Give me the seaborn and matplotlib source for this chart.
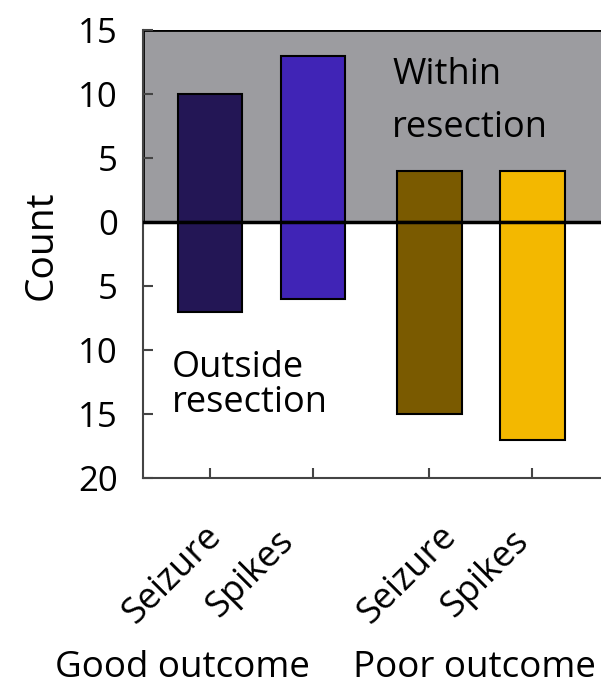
import numpy as np
import pandas as pd
import seaborn as sns
import matplotlib.pyplot as plt

# ---- data ----
keys = ["Good Seizure", "Good Spikes", "Poor Seizure", "Poor Spikes"]
measures = ["Seizure", "Spikes", "Seizure", "Spikes"]
groups = ["Good outcome", "Poor outcome"]
positions = [1.0, 2.0, 3.13, 4.13]
within = [10, 13, 4, 4]
outside = [7, 6, 15, 17]
colors = ["#231655", "#4024B6", "#7A5A00", "#F3B800"]
yticks = [-20, -15, -10, -5, 0, 5, 10, 15]
ytick_labels = ["20", "15", "10", "5", "0", "5", "10", "15"]

sns.set_theme(style="ticks")
plt.rcParams['font.family'] = ['Open Sans', 'DejaVu Sans']
plt.rcParams['text.color'] = 'black'
plt.rcParams['axes.labelcolor'] = 'black'
plt.rcParams['ytick.labelcolor'] = 'black'

df_in = pd.DataFrame({"key": keys, "pos": positions, "count": within})
df_out = pd.DataFrame({"key": keys, "pos": positions,
                       "count": [-v for v in outside]})
pal = dict(zip(keys, colors))

W, H = 601, 688
fig = plt.figure(figsize=(W / 100, H / 100), dpi=100)
ax = fig.add_axes([143 / W, 210 / H, (612 - 143) / W, 448 / H])

ax.axhspan(0, 15, facecolor="#9C9CA0", edgecolor="black", lw=2, zorder=0)
for d in (df_in, df_out):
    sns.barplot(data=d, x="pos", y="count", hue="key", palette=pal,
                native_scale=True, width=0.63, dodge=False, legend=False,
                saturation=1, errorbar=None,
                edgecolor="black", linewidth=1.5, ax=ax, zorder=2)
ax.axhline(0, color="black", lw=2.5, zorder=3)

xmin = 1 - 67 / 103
ax.set_xlim(xmin, xmin + (612 - 143) / 103)
ax.set_ylim(-20, 15)
ax.set_yticks(yticks)
ax.set_yticklabels(ytick_labels)
ax.set_xticks(positions)
ax.set_xticklabels([""] * len(positions))
ax.set_xlabel("")
ax.set_ylabel("Count", fontsize=28)
ax.yaxis.set_label_coords(-0.175, 0.52)

for s in ["top", "right"]:
    ax.spines[s].set_visible(False)
for s in ["left", "bottom"]:
    ax.spines[s].set_color("#444444")
    ax.spines[s].set_linewidth(1.5)
ax.tick_params(direction="in", length=7, width=1.5, color="#444444",
               labelsize=25, pad=18)

ax.text(2.77, 12.9, "Within\nresection", fontsize=26, ha="left", va="top",
        linespacing=1.65, zorder=4)
ax.text(0.63, -10.0, "Outside\nresection", fontsize=26, ha="left", va="top",
        linespacing=0.95, zorder=4)

# rotated category labels
label_anchor = [(222, 538), (295, 543), (457, 538), (530, 543)]
for (px, py), m in zip(label_anchor, measures):
    fig.text(px / W, 1 - py / H, m, fontsize=26, rotation=45,
             rotation_mode="anchor", ha="right", va="baseline")

for cx, g in zip([182, 474], groups):
    fig.text(cx / W, 1 - 686 / H, g, fontsize=26.5, ha="center",
             va="bottom")

fig.savefig("out.png", dpi=100)
